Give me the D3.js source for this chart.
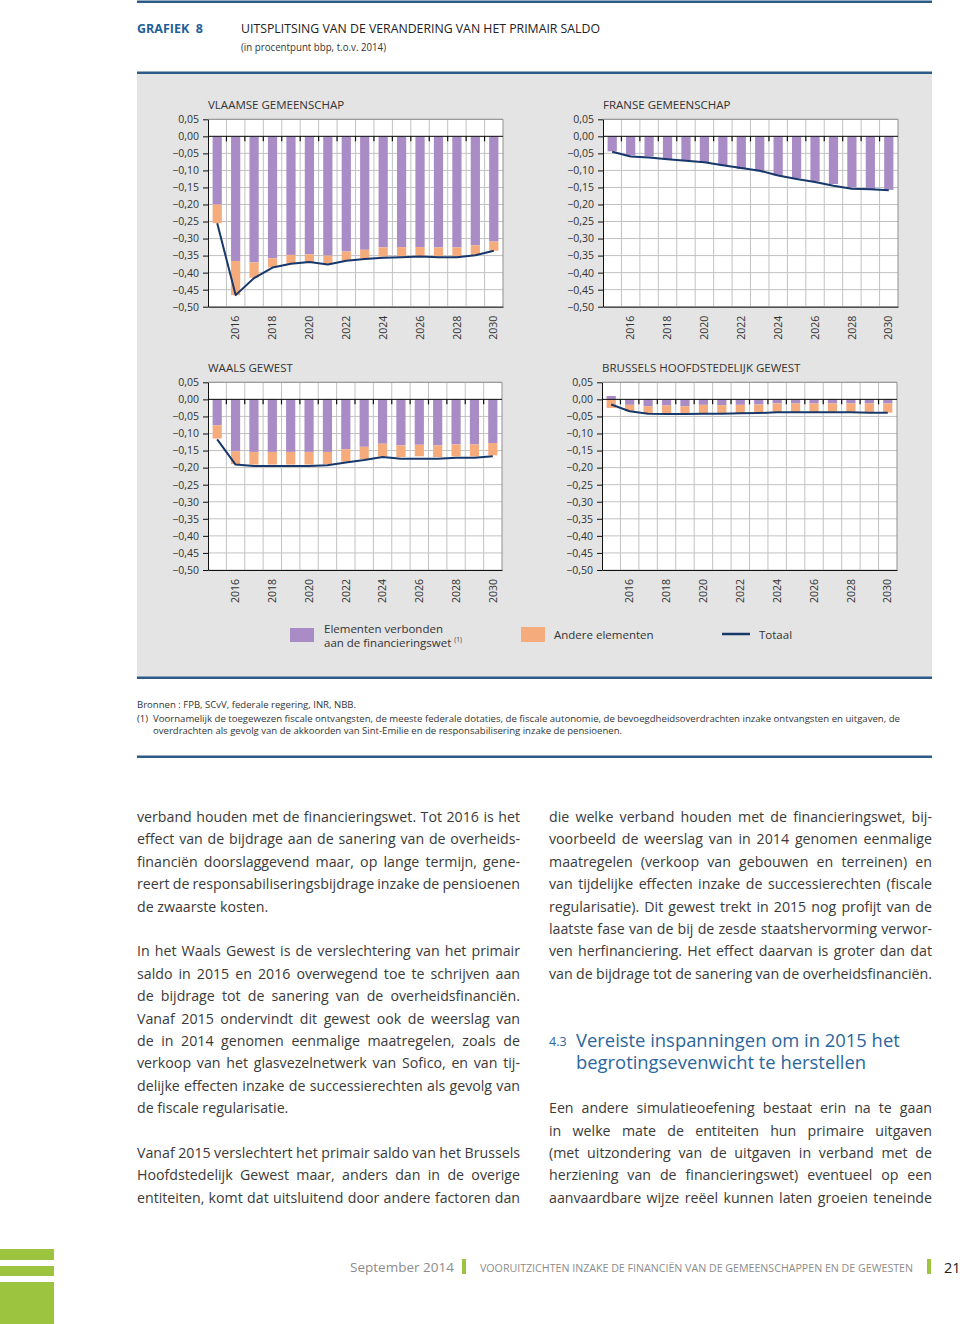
<!DOCTYPE html>
<html>
<head>
<meta charset="utf-8">
<script src="https://cdn.jsdelivr.net/npm/d3@7"></script>
<style>
  body { margin: 0; background: #fff; }
  svg { display: block; font-family: "Open Sans", sans-serif; }
</style>
</head>
<body>
<svg id="page" width="960" height="1324"></svg>
<script>
// ---- data ----
const years = [2015, 2016, 2017, 2018, 2019, 2020, 2021, 2022, 2023, 2024, 2025, 2026, 2027, 2028, 2029, 2030];
const yearLabels = [2016, 2018, 2020, 2022, 2024, 2026, 2028, 2030];
const yTicks = [0.05, 0, -0.05, -0.10, -0.15, -0.20, -0.25, -0.30, -0.35, -0.40, -0.45, -0.50];

const vlaamsFin   = [-0.200, -0.366, -0.370, -0.358, -0.348, -0.346, -0.350, -0.338, -0.333, -0.326, -0.325, -0.325, -0.326, -0.326, -0.320, -0.309];
const vlaamsOther = [-0.055, -0.100, -0.045, -0.027, -0.026, -0.024, -0.024, -0.027, -0.025, -0.027, -0.028, -0.026, -0.027, -0.027, -0.028, -0.027];
const vlaamsTotal = [-0.255, -0.466, -0.416, -0.385, -0.374, -0.369, -0.376, -0.365, -0.360, -0.356, -0.355, -0.353, -0.355, -0.355, -0.349, -0.336];

const fransFin   = [-0.044, -0.056, -0.059, -0.067, -0.070, -0.078, -0.086, -0.096, -0.103, -0.115, -0.123, -0.132, -0.140, -0.150, -0.155, -0.157];
const fransOther = [0, 0, 0, 0, 0, 0, 0, 0, 0, 0, 0, 0, 0, 0, 0, 0];
const fransTotal = [-0.045, -0.059, -0.062, -0.067, -0.072, -0.076, -0.085, -0.093, -0.101, -0.115, -0.125, -0.134, -0.145, -0.154, -0.155, -0.158];

const waalsFin   = [-0.076, -0.152, -0.154, -0.154, -0.154, -0.154, -0.154, -0.146, -0.139, -0.130, -0.135, -0.133, -0.135, -0.132, -0.132, -0.128];
const waalsOther = [-0.039, -0.038, -0.037, -0.037, -0.037, -0.037, -0.037, -0.037, -0.036, -0.037, -0.034, -0.034, -0.034, -0.035, -0.035, -0.036];
const waalsTotal = [-0.117, -0.191, -0.195, -0.195, -0.195, -0.195, -0.193, -0.185, -0.178, -0.169, -0.174, -0.174, -0.174, -0.171, -0.171, -0.167];

const brusFin   = [0.010, -0.016, -0.020, -0.018, -0.020, -0.016, -0.017, -0.016, -0.015, -0.012, -0.012, -0.012, -0.012, -0.012, -0.012, -0.012];
const brusOther = [-0.025, -0.019, -0.022, -0.025, -0.023, -0.026, -0.025, -0.025, -0.025, -0.026, -0.026, -0.026, -0.026, -0.026, -0.027, -0.027];
const brusTotal = [-0.015, -0.035, -0.042, -0.043, -0.043, -0.042, -0.042, -0.041, -0.040, -0.038, -0.038, -0.038, -0.038, -0.038, -0.039, -0.039];

const colors = { fin: "#a98bc6", other: "#f6ab7c", total: "#17386a" };
const textCol = "#333";
const blue = "#2d5b88";
const green = "#9dc43f";

const locale = d3.formatLocale({ decimal: ",", thousands: ".", grouping: [3], currency: ["€", ""], minus: "\u2212" });
const fmt = locale.format(".2f");

const svg = d3.select("#page");

// ---- header ----
svg.append("rect").attr("x", 137).attr("y", 0.5).attr("width", 795).attr("height", 2.5).attr("fill", blue);
svg.append("text").attr("x", 137).attr("y", 33).attr("font-size", 12.5).attr("font-weight", "bold")
  .attr("fill", "#1f5f99").text("GRAFIEK  8").attr("xml:space", "preserve");
svg.append("text").attr("x", 241).attr("y", 33).attr("font-size", 12.5).attr("fill", "#222")
  .attr("textLength", 359).attr("lengthAdjust", "spacingAndGlyphs")
  .text("UITSPLITSING VAN DE VERANDERING VAN HET PRIMAIR SALDO");
svg.append("text").attr("x", 241).attr("y", 51).attr("font-size", 10).attr("fill", "#333")
  .attr("textLength", 145).attr("lengthAdjust", "spacingAndGlyphs")
  .text("(in procentpunt bbp, t.o.v. 2014)");
svg.append("rect").attr("x", 137).attr("y", 71.5).attr("width", 795).attr("height", 2.5).attr("fill", blue);

// grey chart panel
svg.append("rect").attr("x", 137).attr("y", 74).attr("width", 795).attr("height", 603).attr("fill", "#e4e4e4");
svg.append("rect").attr("x", 137).attr("y", 676.5).attr("width", 795).attr("height", 2.5).attr("fill", blue);

// ---- panels ----
const panels = [
  { title: "VLAAMSE GEMEENSCHAP", fin: vlaamsFin, other: vlaamsOther, total: vlaamsTotal, left: 208, right: 503, top: 119.3, bottom: 306.7 },
  { title: "FRANSE GEMEENSCHAP", fin: fransFin, other: fransOther, total: fransTotal, left: 603, right: 898, top: 119.3, bottom: 306.7 },
  { title: "WAALS GEWEST", fin: waalsFin, other: waalsOther, total: waalsTotal, left: 208, right: 502, top: 382.3, bottom: 570 },
  { title: "BRUSSELS HOOFDSTEDELIJK GEWEST", fin: brusFin, other: brusOther, total: brusTotal, left: 602, right: 897, top: 382.3, bottom: 570 }
];

function drawPanel(p) {
  const g = svg.append("g");
  const x = d3.scaleBand().domain(years).range([p.left, p.right]).paddingInner(0.5).paddingOuter(0.25);
  const y = d3.scaleLinear().domain([-0.5, 0.05]).range([p.bottom, p.top]);
  const edges = years.slice(1).map(d => x(d) + x.bandwidth() / 2 - x.step() / 2);

  g.append("text").attr("x", p.left).attr("y", p.top - 10).attr("font-size", 11.5).attr("fill", textCol).text(p.title);

  g.append("rect").attr("x", p.left).attr("y", p.top).attr("width", p.right - p.left)
    .attr("height", p.bottom - p.top).attr("fill", "#fff");

  g.selectAll(".hg").data(yTicks).join("line")
    .attr("x1", p.left).attr("x2", p.right)
    .attr("y1", d => y(d)).attr("y2", d => y(d))
    .attr("stroke", "#c2c2c2").attr("stroke-width", 1);
  g.selectAll(".vg").data(edges).join("line")
    .attr("x1", d => d).attr("x2", d => d)
    .attr("y1", p.top).attr("y2", p.bottom)
    .attr("stroke", "#c2c2c2").attr("stroke-width", 1);
  g.append("path").attr("d", `M${p.left},${p.top}H${p.right}V${p.bottom}`)
    .attr("fill", "none").attr("stroke", "#8f8f8f");

  const rows = years.map((yr, i) => ({ year: yr, fin: p.fin[i], other: p.other[i] }));
  const series = d3.stack().keys(["fin", "other"]).offset(d3.stackOffsetDiverging)(rows);
  g.selectAll(".s").data(series).join("g")
    .attr("fill", d => colors[d.key])
    .selectAll("rect").data(d => d).join("rect")
    .attr("x", d => x(d.data.year))
    .attr("width", x.bandwidth())
    .attr("y", d => y(Math.max(d[0], d[1])))
    .attr("height", d => Math.abs(y(d[0]) - y(d[1])));

  g.append("line").attr("x1", p.left).attr("x2", p.right).attr("y1", y(0)).attr("y2", y(0))
    .attr("stroke", "#111").attr("stroke-width", 1);
  g.selectAll(".zt").data(edges).join("line")
    .attr("x1", d => d).attr("x2", d => d)
    .attr("y1", y(0)).attr("y2", y(0) + 5)
    .attr("stroke", "#111").attr("stroke-width", 1.2);

  const line = d3.line()
    .x((d, i) => x(years[i]) + x.bandwidth() / 2)
    .y(d => y(d));
  g.append("path").datum(p.total).attr("d", line)
    .attr("fill", "none").attr("stroke", colors.total).attr("stroke-width", 2)
    .attr("stroke-linejoin", "round");

  const ya = g.append("g").attr("transform", `translate(${p.left},0)`)
    .call(d3.axisLeft(y).tickValues(yTicks).tickFormat(fmt).tickSize(5).tickSizeOuter(0).tickPadding(4));
  ya.attr("font-family", null).attr("font-size", 10.5);
  ya.selectAll("path, line").attr("stroke", "#111");
  ya.selectAll("text").attr("fill", textCol);

  const xa = g.append("g").attr("transform", `translate(0,${p.bottom})`)
    .call(d3.axisBottom(x).tickValues(yearLabels).tickSize(0).tickSizeOuter(0));
  xa.attr("font-family", null).attr("font-size", 10.5);
  xa.select(".domain").attr("stroke", "#111");
  xa.selectAll("text")
    .attr("transform", "rotate(-90)")
    .attr("x", -9).attr("y", 0).attr("dy", "0.35em")
    .attr("text-anchor", "end").attr("fill", textCol);
}
panels.forEach(drawPanel);

// ---- legend ----
const legend = svg.append("g").attr("font-size", 11.5).attr("fill", textCol);
legend.append("rect").attr("x", 290).attr("y", 628).attr("width", 24).attr("height", 14).attr("fill", colors.fin);
legend.append("text").attr("x", 324).attr("y", 633).text("Elementen verbonden");
const l2 = legend.append("text").attr("x", 324).attr("y", 647).text("aan de financieringswet ");
l2.append("tspan").attr("font-size", 6.5).attr("dy", -5).text("(1)");
legend.append("rect").attr("x", 521).attr("y", 627).attr("width", 24).attr("height", 15).attr("fill", colors.other);
legend.append("text").attr("x", 554).attr("y", 639).text("Andere elementen");
legend.append("line").attr("x1", 722).attr("x2", 750).attr("y1", 634).attr("y2", 634)
  .attr("stroke", colors.total).attr("stroke-width", 2.5);
legend.append("text").attr("x", 759).attr("y", 639).text("Totaal");

// ---- footnotes ----
const notes = svg.append("g").attr("font-size", 9.5).attr("fill", textCol);
notes.append("text").attr("x", 137).attr("y", 708).attr("textLength", 219).attr("lengthAdjust", "spacingAndGlyphs")
  .text("Bronnen : FPB, SCvV, federale regering, INR, NBB.");
notes.append("text").attr("x", 137).attr("y", 722).text("(1)");
notes.append("text").attr("x", 153).attr("y", 722).attr("textLength", 747).attr("lengthAdjust", "spacingAndGlyphs")
  .text("Voornamelijk de toegewezen fiscale ontvangsten, de meeste federale dotaties, de fiscale autonomie, de bevoegdheidsoverdrachten inzake ontvangsten en uitgaven, de");
notes.append("text").attr("x", 153).attr("y", 734).attr("textLength", 469).attr("lengthAdjust", "spacingAndGlyphs")
  .text("overdrachten als gevolg van de akkoorden van Sint-Emilie en de responsabilisering inzake de pensioenen.");
svg.append("rect").attr("x", 137).attr("y", 755.5).attr("width", 795).attr("height", 2.5).attr("fill", blue);

// ---- body text ----
const lineTop = 822, lineStep = 22.4;
const leftLines = [
  ["verband houden met de financieringswet. Tot 2016 is het", true],
  ["effect van de bijdrage aan de sanering van de overheids-", true],
  ["financiën doorslaggevend maar, op lange termijn, gene-", true],
  ["reert de responsabiliseringsbijdrage inzake de pensioenen", true],
  ["de zwaarste kosten.", false],
  null,
  ["In het Waals Gewest is de verslechtering van het primair", true],
  ["saldo in 2015 en 2016 overwegend toe te schrijven aan", true],
  ["de bijdrage tot de sanering van de overheidsfinanciën.", true],
  ["Vanaf 2015 ondervindt dit gewest ook de weerslag van", true],
  ["de in 2014 genomen eenmalige maatregelen, zoals de", true],
  ["verkoop van het glasvezelnetwerk van Sofico, en van tij-", true],
  ["delijke effecten inzake de successierechten als gevolg van", true],
  ["de fiscale regularisatie.", false],
  null,
  ["Vanaf 2015 verslechtert het primair saldo van het Brussels", true],
  ["Hoofdstedelijk Gewest maar, anders dan in de overige", true],
  ["entiteiten, komt dat uitsluitend door andere factoren dan", true]
];
const rightLines = [
  ["die welke verband houden met de financieringswet, bij-", true],
  ["voorbeeld de weerslag van in 2014 genomen eenmalige", true],
  ["maatregelen (verkoop van gebouwen en terreinen) en", true],
  ["van tijdelijke effecten inzake de successierechten (fiscale", true],
  ["regularisatie). Dit gewest trekt in 2015 nog profijt van de", true],
  ["laatste fase van de bij de zesde staatshervorming verwor-", true],
  ["ven herfinanciering. Het effect daarvan is groter dan dat", true],
  ["van de bijdrage tot de sanering van de overheidsfinanciën.", true],
  null, null, null, null, null,
  ["Een andere simulatieoefening bestaat erin na te gaan", true],
  ["in welke mate de entiteiten hun primaire uitgaven", true],
  ["(met uitzondering van de uitgaven in verband met de", true],
  ["herziening van de financieringswet) eventueel op een", true],
  ["aanvaardbare wijze reëel kunnen laten groeien teneinde", true]
];

function drawColumn(lines, x0, width) {
  const col = svg.append("g").attr("font-size", 14.2).attr("fill", "#3a3a3a");
  lines.forEach((l, i) => {
    if (!l) return;
    const t = col.append("text").attr("x", x0).attr("y", lineTop + i * lineStep).text(l[0]);
    if (l[1]) {
      const len = t.node().getComputedTextLength();
      const spaces = (l[0].match(/ /g) || []).length;
      const ws = (width - len) / spaces;
      if (ws > -1.5) t.attr("word-spacing", ws);
      else t.attr("textLength", width).attr("lengthAdjust", "spacingAndGlyphs");
    }
  });
}
drawColumn(leftLines, 137, 383);
drawColumn(rightLines, 549, 383);

// section heading, two lines in one text element
const head = svg.append("g").attr("fill", "#2b669c");
head.append("text").attr("x", 549).attr("y", 1046).attr("font-size", 12.5).text("4.3");
const headText = head.append("text").attr("font-size", 18.4);
headText.selectAll("tspan")
  .data(["Vereiste inspanningen om in 2015 het", "begrotingsevenwicht te herstellen"])
  .join("tspan")
  .attr("x", 576)
  .attr("y", (d, i) => 1047 + i * 22)
  .text(d => d);

// ---- footer ----
const bars = [[1249, 11], [1266, 10], [1282, 42]];
svg.selectAll(".gb").data(bars).join("rect")
  .attr("x", 0).attr("y", d => d[0]).attr("width", 54).attr("height", d => d[1]).attr("fill", green);
svg.append("text").attr("x", 350).attr("y", 1272).attr("font-size", 13.5).attr("fill", "#8c8c8c").text("September 2014");
svg.append("rect").attr("x", 462).attr("y", 1259).attr("width", 4).attr("height", 15).attr("fill", green);
svg.append("text").attr("x", 480).attr("y", 1272).attr("font-size", 10).attr("fill", "#8c8c8c")
  .attr("textLength", 433).attr("lengthAdjust", "spacingAndGlyphs")
  .text("VOORUITZICHTEN INZAKE DE FINANCIËN VAN DE GEMEENSCHAPPEN EN DE GEWESTEN");
svg.append("rect").attr("x", 927).attr("y", 1259).attr("width", 4).attr("height", 15).attr("fill", green);
svg.append("text").attr("x", 944).attr("y", 1273).attr("font-size", 14.5).attr("fill", "#222").text("21");
</script>
</body>
</html>
